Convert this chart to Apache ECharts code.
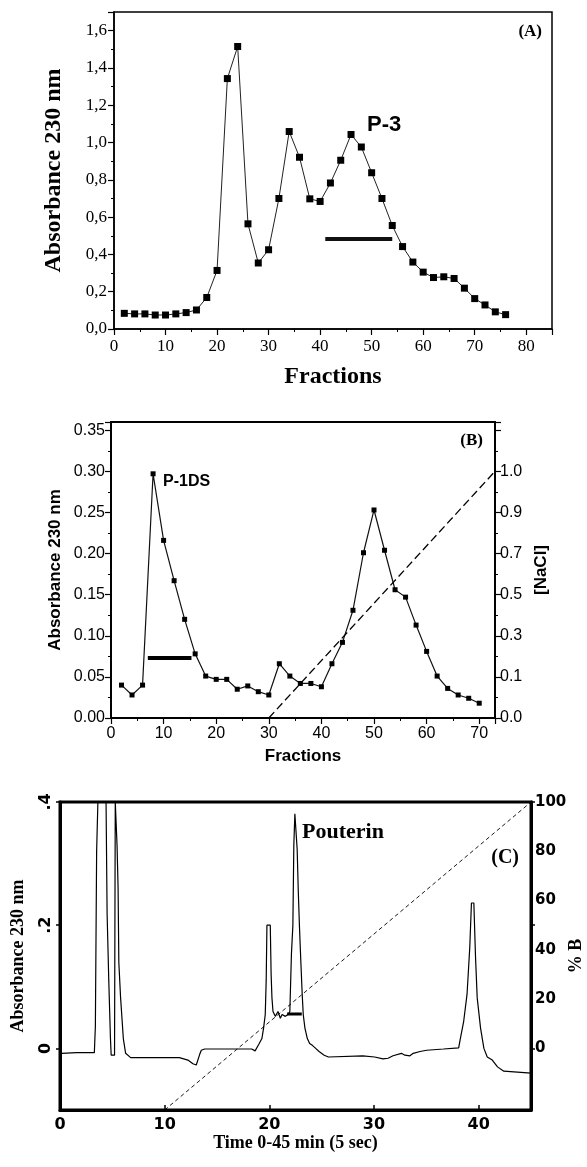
<!DOCTYPE html>
<html>
<head>
<meta charset="utf-8">
<script src="https://cdn.jsdelivr.net/npm/echarts@6/dist/echarts.min.js"></script>
<style>
  html, body { margin: 0; padding: 0; background: #fff; }
  #chart { width: 587px; height: 1167px; }
</style>
</head>
<body>
<div id="chart"></div>
<script>
// ---- (A) gel filtration profile ----
const aFractions = [2, 4, 6, 8, 10, 12, 14, 16, 18, 20, 22, 24, 26, 28, 30, 32, 34, 36, 38,
  40, 42, 44, 46, 48, 50, 52, 54, 56, 58, 60, 62, 64, 66, 68, 70, 72, 74, 76];
const aAbsorbance = [0.084, 0.081, 0.081, 0.075, 0.075, 0.081, 0.088, 0.102, 0.169, 0.314,
  1.343, 1.515, 0.564, 0.354, 0.425, 0.700, 1.059, 0.921, 0.698, 0.684, 0.783, 0.905, 1.043,
  0.976, 0.838, 0.700, 0.555, 0.442, 0.359, 0.305, 0.276, 0.280, 0.271, 0.219, 0.163, 0.129,
  0.092, 0.077];
const aPoolFractions = [41, 54];
const aPoolLevel = 0.483;

// ---- (B) ion exchange profile ----
const bFractions = [2, 4, 6, 8, 10, 12, 14, 16, 18, 20, 22, 24, 26, 28, 30, 32, 34, 36, 38,
  40, 42, 44, 46, 48, 50, 52, 54, 56, 58, 60, 62, 64, 66, 68, 70];
const bAbsorbance = [0.040, 0.028, 0.040, 0.297, 0.216, 0.167, 0.120, 0.078, 0.051, 0.047,
  0.047, 0.035, 0.039, 0.032, 0.028, 0.066, 0.051, 0.042, 0.042, 0.038, 0.066, 0.092, 0.131,
  0.201, 0.253, 0.204, 0.156, 0.147, 0.113, 0.081, 0.051, 0.036, 0.028, 0.024, 0.018];
const bPoolFractions = [7, 15.3];
const bPoolLevel = 0.073;
const bGradientFractions = [30, 73];
const bGradientNaCl = [0, 1.0];
const bNaClTickLabels = ['0.0', '0.1', '0.3', '0.5', '0.7', '0.9', '1.0'];

// ---- (C) RP-HPLC trace ----
const cTime = [0.15, 1.6, 3.28, 3.38, 3.5, 3.62, 4.4, 4.5, 4.66, 4.82, 4.89, 5.21, 5.28, 5.36,
  5.45, 5.55, 5.62, 5.79, 6.05, 6.27, 6.75, 11.41, 12.22, 12.7, 13.02, 13.34, 13.5, 13.82,
  18.32, 18.64, 18.97, 19.12, 19.29, 19.45, 19.61, 19.7, 19.77, 20.09, 20.17, 20.25, 20.35,
  20.57, 20.83, 21.05, 21.22, 21.53, 21.79, 21.96, 22.11, 22.25, 22.34, 22.44, 22.59, 22.66,
  22.76, 22.88, 23.02, 23.14, 23.24, 23.4, 23.63, 23.85, 24.11, 24.43, 24.75, 25.24, 25.65,
  28.93, 30.06, 30.86, 31.34, 31.82, 32.62, 32.95, 33.43, 33.75, 34.4, 35.03, 36.64, 38.09,
  38.25, 38.57, 38.89, 39.15, 39.31, 39.54, 39.7, 39.86, 40.18, 40.5, 40.82, 41.3, 41.8,
  42.4, 45];
const cAbsorbance = [-0.008, -0.007, -0.007, 0.036, 0.32, 0.4, 0.4, 0.219, 0.11, 0.016,
  -0.011, -0.011, 0.4, 0.4, 0.33, 0.26, 0.14, 0.082, 0.016, -0.008, -0.015, -0.015, -0.019,
  -0.025, -0.027, -0.01, -0.003, -0.001, -0.001, -0.004, 0.006, 0.006, 0.016, 0.033, 0.055,
  0.11, 0.2, 0.2, 0.121, 0.082, 0.06, 0.052, 0.06, 0.049, 0.055, 0.052, 0.055, 0.06, 0.153,
  0.2, 0.33, 0.381, 0.381, 0.323, 0.258, 0.197, 0.137, 0.088, 0.055, 0.033, 0.016, 0.008,
  0.005, 0.0, -0.005, -0.011, -0.014, -0.012, -0.014, -0.017, -0.016, -0.012, -0.008, -0.011,
  -0.012, -0.008, -0.005, -0.003, -0.001, 0.001, 0.016, 0.044, 0.088, 0.164, 0.236, 0.236,
  0.148, 0.082, 0.033, 0.0, -0.014, -0.019, -0.03, -0.037, -0.04];
const cPoolTime = [21.7, 23.1];
const cPoolLevel = 0.056;
const cGradientTime = [10, 45];
const cGradientB = [-25, 100];
const cAbsTicks = [0, 0.2, 0.4];
const cAbsTickLabels = ['0', '.2', '.4'];
const cBTicks = [0, 20, 40, 60, 80, 100];

const serif = '"Liberation Serif", "Times New Roman", serif';
const sans = '"Liberation Sans", Arial, sans-serif';
const wide = '"DejaVu Sans", Verdana, sans-serif';

function pairs(xs, ys) {
  return xs.map((x, i) => [x, ys[i]]);
}
function flat(xs, level) {
  return xs.map(x => [x, level]);
}

function axisBase(width) {
  return {
    type: 'value',
    nameMoveOverlap: false,
    splitLine: { show: false },
    axisLine: { onZero: false, lineStyle: { color: '#000', width: width } },
    axisTick: { length: 6, lineStyle: { color: '#000', width: 1.2 } },
    minorTick: { show: true, splitNumber: 2, length: 3, lineStyle: { color: '#000', width: 1 } }
  };
}

const chart = echarts.init(document.getElementById('chart'));

const option = {
  animation: false,
  backgroundColor: '#fff',
  grid: [
    { left: 114, top: 12, width: 438, height: 317, show: true, borderColor: '#000', borderWidth: 1.5,
      containLabel: false, outerBoundsMode: 'none' },
    { left: 111, top: 422, width: 384, height: 296, show: true, borderColor: '#000', borderWidth: 2,
      containLabel: false, outerBoundsMode: 'none' },
    { left: 60, top: 802, width: 471, height: 308, show: true, borderColor: '#000', borderWidth: 3,
      containLabel: false, outerBoundsMode: 'none' }
  ],
  xAxis: [
    Object.assign(axisBase(1.5), {
      gridIndex: 0, min: 0, max: 85, interval: 10,
      axisLabel: { showMaxLabel: false, margin: 9, color: '#000', fontFamily: serif, fontSize: 17 },
      name: 'Fractions', nameLocation: 'middle', nameGap: 36,
      nameTextStyle: { fontFamily: serif, fontWeight: 'bold', fontSize: 24, color: '#000' }
    }),
    Object.assign(axisBase(2), {
      gridIndex: 1, min: 0, max: 73, interval: 10,
      axisLabel: { showMaxLabel: false, margin: 8, color: '#000', fontFamily: sans, fontSize: 16 },
      name: 'Fractions', nameLocation: 'middle', nameGap: 30,
      nameTextStyle: { fontFamily: sans, fontWeight: 'bold', fontSize: 17, color: '#000' }
    }),
    Object.assign(axisBase(3), {
      gridIndex: 2, min: 0, max: 45, interval: 10,
      axisTick: { inside: true, length: 5, lineStyle: { color: '#000', width: 1.5 } },
      minorTick: { show: false },
      axisLabel: { showMaxLabel: false, margin: 7, color: '#000', fontFamily: wide, fontWeight: 'bold', fontSize: 16 },
      name: 'Time 0-45 min (5 sec)', nameLocation: 'middle', nameGap: 24,
      nameTextStyle: { fontFamily: serif, fontWeight: 'bold', fontSize: 18, color: '#000' }
    })
  ],
  yAxis: [
    Object.assign(axisBase(1.5), {
      gridIndex: 0, min: 0, max: 1.7, interval: 0.2,
      axisLabel: {
        showMaxLabel: false, margin: 7, color: '#000', fontFamily: serif, fontSize: 17,
        formatter: v => v.toFixed(1).replace('.', ',')
      },
      name: 'Absorbance 230 nm', nameLocation: 'middle', nameGap: 48,
      nameTextStyle: { fontFamily: serif, fontWeight: 'bold', fontSize: 24, color: '#000' }
    }),
    Object.assign(axisBase(2), {
      gridIndex: 1, min: 0, max: 0.36, interval: 0.05,
      axisLabel: {
        showMaxLabel: false, margin: 6, color: '#000', fontFamily: sans, fontSize: 16,
        formatter: v => v.toFixed(2)
      },
      name: 'Absorbance 230 nm', nameLocation: 'middle', nameGap: 47,
      nameTextStyle: { fontFamily: sans, fontWeight: 'bold', fontSize: 17, color: '#000' }
    }),
    Object.assign(axisBase(2), {
      gridIndex: 1, position: 'right', min: 0, max: 1.2, interval: 1 / 6,
      axisLabel: {
        showMaxLabel: false, margin: 5, color: '#000', fontFamily: sans, fontSize: 16,
        formatter: v => bNaClTickLabels[Math.round(v * 6)] || ''
      },
      name: '[NaCl]', nameLocation: 'middle', nameGap: 38, nameRotate: 90,
      nameTextStyle: { fontFamily: sans, fontWeight: 'bold', fontSize: 17, color: '#000' }
    }),
    Object.assign(axisBase(3), {
      gridIndex: 2, min: -0.1, max: 0.4,
      axisTick: { length: 4, customValues: cAbsTicks, lineStyle: { color: '#000', width: 1.5 } },
      minorTick: { show: false },
      axisLabel: {
        customValues: cAbsTicks, rotate: 90, margin: 6, color: '#000',
        fontFamily: wide, fontWeight: 'bold', fontSize: 16,
        formatter: v => cAbsTickLabels[cAbsTicks.indexOf(Math.round(v * 10) / 10)]
      },
      name: 'Absorbance 230 nm', nameLocation: 'middle', nameGap: 33,
      nameTextStyle: { fontFamily: serif, fontWeight: 'bold', fontSize: 18, color: '#000' }
    }),
    Object.assign(axisBase(3), {
      gridIndex: 2, position: 'right', min: -25, max: 100,
      axisTick: { length: 4, customValues: [0, 50, 100], lineStyle: { color: '#000', width: 1.5 } },
      minorTick: { show: false },
      axisLabel: {
        customValues: cBTicks, margin: 4, color: '#000',
        fontFamily: wide, fontWeight: 'bold', fontSize: 15
      },
      name: '% B', nameLocation: 'middle', nameGap: 36, nameRotate: 90,
      nameTextStyle: { fontFamily: serif, fontWeight: 'bold', fontSize: 18, color: '#000' }
    })
  ],
  series: [
    {
      type: 'line', xAxisIndex: 0, yAxisIndex: 0,
      data: pairs(aFractions, aAbsorbance),
      symbol: 'rect', symbolSize: 7,
      itemStyle: { color: '#000' },
      lineStyle: { color: '#222', width: 1 }
    },
    {
      type: 'line', xAxisIndex: 0, yAxisIndex: 0,
      data: flat(aPoolFractions, aPoolLevel),
      symbol: 'none', lineStyle: { color: '#111', width: 4 }
    },
    {
      type: 'line', xAxisIndex: 1, yAxisIndex: 1,
      data: pairs(bFractions, bAbsorbance),
      symbol: 'rect', symbolSize: 5,
      itemStyle: { color: '#000' },
      lineStyle: { color: '#111', width: 1.2 }
    },
    {
      type: 'line', xAxisIndex: 1, yAxisIndex: 1,
      data: flat(bPoolFractions, bPoolLevel),
      symbol: 'none', lineStyle: { color: '#000', width: 4 }
    },
    {
      type: 'line', xAxisIndex: 1, yAxisIndex: 2,
      data: pairs(bGradientFractions, bGradientNaCl),
      symbol: 'none', lineStyle: { color: '#000', width: 1.3, type: [8, 4] }
    },
    {
      type: 'line', xAxisIndex: 2, yAxisIndex: 3,
      data: pairs(cTime, cAbsorbance),
      symbol: 'none', lineStyle: { color: '#000', width: 1.2 }
    },
    {
      type: 'line', xAxisIndex: 2, yAxisIndex: 3,
      data: flat(cPoolTime, cPoolLevel),
      symbol: 'none', lineStyle: { color: '#000', width: 3 }
    },
    {
      type: 'line', xAxisIndex: 2, yAxisIndex: 4,
      data: pairs(cGradientTime, cGradientB),
      symbol: 'none', lineStyle: { color: '#000', width: 0.9, type: [4, 3] }
    }
  ],
  graphic: [
    { type: 'text', x: 542, y: 32, style: { text: '(A)', align: 'right', verticalAlign: 'middle', fontFamily: serif, fontWeight: 'bold', fontSize: 17, fill: '#000' } },
    { type: 'text', x: 367, y: 125, style: { text: 'P-3', align: 'left', verticalAlign: 'middle', fontFamily: sans, fontWeight: 'bold', fontSize: 22, fill: '#000' } },
    { type: 'text', x: 483, y: 441, style: { text: '(B)', align: 'right', verticalAlign: 'middle', fontFamily: serif, fontWeight: 'bold', fontSize: 17, fill: '#000' } },
    { type: 'text', x: 163, y: 482, style: { text: 'P-1DS', align: 'left', verticalAlign: 'middle', fontFamily: sans, fontWeight: 'bold', fontSize: 16, fill: '#000' } },
    { type: 'text', x: 302, y: 832, style: { text: 'Pouterin', align: 'left', verticalAlign: 'middle', fontFamily: serif, fontWeight: 'bold', fontSize: 22, fill: '#000' } },
    { type: 'text', x: 519, y: 858, style: { text: '(C)', align: 'right', verticalAlign: 'middle', fontFamily: serif, fontWeight: 'bold', fontSize: 20, fill: '#000' } }
  ]
};

chart.setOption(option);
window.addEventListener('resize', () => chart.resize());
</script>
</body>
</html>
